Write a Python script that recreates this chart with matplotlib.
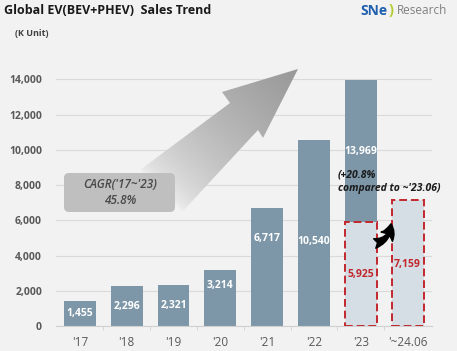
import numpy as np
import matplotlib.pyplot as plt
from matplotlib.patches import Polygon, FancyBboxPatch, FancyArrowPatch

years = ["'17", "'18", "'19", "'20", "'21", "'22", "'23", "'~24.06"]
totals = [1455, 2296, 2321, 3214, 6717, 10540, 13969]
half_years = [5925, 7159]          # '23 H1 and '24 H1
yticks = [0, 2000, 4000, 6000, 8000, 10000, 12000, 14000]

bg = '#f2f2f2'
dark = '#7d97a8'
light = '#d5dee5'
red = '#c1272d'
plt.rcParams['font.family'] = ['Open Sans', 'DejaVu Sans']

fig = plt.figure(figsize=(4.57, 3.51), dpi=100, facecolor=bg)
ax = fig.add_axes([0.1225, 0.0701, 0.8228, 0.7544], facecolor=bg)

x = np.arange(len(years))
w = 0.68
ax.bar(x[:7], totals, width=w, color=dark, zorder=2)
ax.bar(x[6:], half_years, width=w, color=light, edgecolor=red,
       linestyle=(0, (4, 2)), linewidth=1.4, zorder=3)

# value labels
lab_y = [740, 1140, 1160, 2330, 5000, 4800, 9900]
for i, v in enumerate(totals):
    ax.text(x[i], lab_y[i], f'{v:,}', ha='center', va='center', color='white',
            fontsize=7.5, fontweight='bold', zorder=4)
for i, (v, yy) in enumerate(zip(half_years, [2960, 3530])):
    ax.text(x[6 + i], yy, f'{v:,}', ha='center', va='center', color=red,
            fontsize=7.5, fontweight='bold', zorder=4)

ax.set_xlim(-0.51, 7.52)
ax.set_ylim(0, 15000)
ax.set_yticks(yticks)
ax.set_yticklabels([f'{t:,}' for t in yticks])
ax.set_xticks(x)
ax.set_xticklabels(years)
ax.set_xticks(x[:-1] + 0.5, minor=True)
ax.grid(axis='y', color='#dadada', linewidth=0.8, zorder=0)
for s in ['top', 'right', 'left']:
    ax.spines[s].set_visible(False)
ax.spines['bottom'].set_color('#d0d0d0')
ax.tick_params(axis='y', length=0, pad=10, labelsize=7.5, labelcolor='#595959')
ax.tick_params(axis='x', which='major', length=0, pad=7, labelsize=8.5, labelcolor='#595959')
ax.tick_params(axis='x', which='minor', length=3, color='#d0d0d0')
for lb in ax.get_yticklabels():
    lb.set_fontweight('bold')

# overlay in pixel coordinates for annotations
ov = fig.add_axes([0, 0, 1, 1], facecolor='none')
ov.set_xlim(0, 457)
ov.set_ylim(351, 0)
ov.axis('off')

# gradient growth arrow, tail hidden behind the CAGR box
pts = [(298, 69), (222, 92), (230, 103), (140, 170), (182, 212), (258, 130), (263, 138)]
poly = Polygon(pts, closed=True, facecolor='none', edgecolor='none')
ov.add_patch(poly)
X, Y = np.meshgrid(np.arange(457) + 0.5, np.arange(351) + 0.5)
x0, y0, x1, y1 = 170, 200, 298, 69
t = ((X - x0) * (x1 - x0) + (Y - y0) * (y1 - y0)) / ((x1 - x0) ** 2 + (y1 - y0) ** 2)
t = np.clip(t, 0, 1) ** 0.6
g = (242 - 90 * t) / 255
img = np.dstack([g, g, g])
im = ov.imshow(img, extent=(0, 457, 351, 0), aspect='auto', zorder=1)
im.set_clip_path(poly)
ov.set_xlim(0, 457)
ov.set_ylim(351, 0)

# CAGR box
ov.add_patch(FancyBboxPatch((64, 173), 111, 39, boxstyle='round,pad=0,rounding_size=5',
                            facecolor='#bfbfbf', edgecolor='none', zorder=2))
ov.text(120, 185, "CAGR('17~'23)", ha='center', va='center', fontsize=8.5,
        style='italic', fontweight='semibold', color='#484848', zorder=3)
ov.text(120, 201, "45.8%", ha='center', va='center', fontsize=8.5,
        style='italic', fontweight='semibold', color='#484848', zorder=3)

ov.text(338, 175, "(+20.8%", ha='left', va='center', fontsize=7.5,
        style='italic', fontweight='bold', color='#1a1a1a', zorder=3)
ov.text(338, 188, "compared to ~'23.06)", ha='left', va='center', fontsize=7.5,
        style='italic', fontweight='bold', color='#1a1a1a', zorder=3)

ov.add_patch(FancyArrowPatch((372, 244), (391, 221), connectionstyle='arc3,rad=0.45',
                             arrowstyle='fancy,head_length=0.7,head_width=0.75,tail_width=0.5',
                             mutation_scale=14, color='black', zorder=3))

# title, unit and logo
ov.text(4, 11, 'Global EV(BEV+PHEV)  Sales Trend', ha='left', va='center',
        fontsize=9, fontweight='bold', color='#1a1a1a')
ov.text(15, 34, '(K Unit)', ha='left', va='center', fontsize=6.5,
        fontweight='bold', color='#404040')
ov.text(360, 11, 'SNe', ha='left', va='center', fontsize=10,
        fontweight='bold', color='#1f5fae')
ov.text(389, 10, ')', ha='left', va='center', fontsize=10.5,
        fontweight='bold', color='#b5cc2e')
ov.text(397, 11, 'Research', ha='left', va='center', fontsize=8.5,
        color='#808080')

fig.savefig('out.png', dpi=100, facecolor=bg)
